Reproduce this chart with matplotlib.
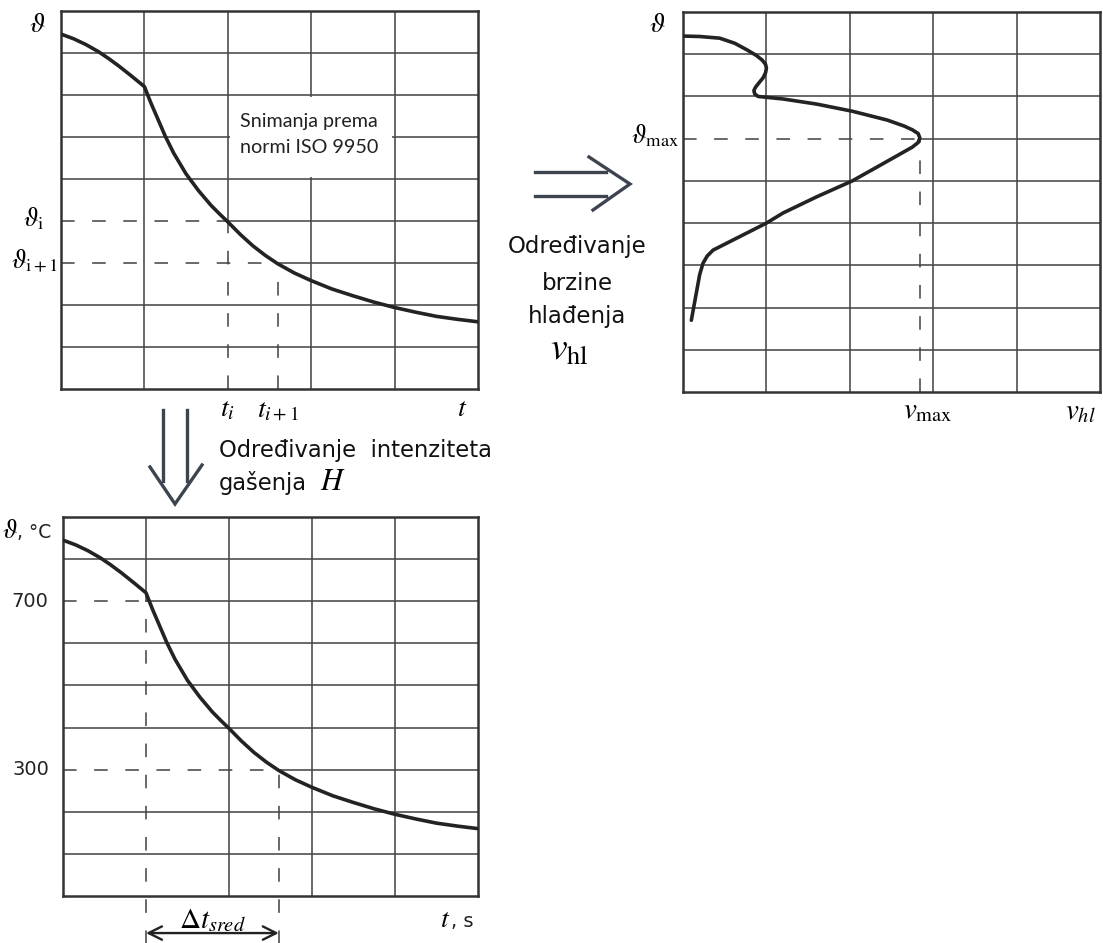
import numpy as np
import matplotlib.pyplot as plt
from matplotlib.patches import Rectangle

plt.rcParams['mathtext.fontset'] = 'stix'
plt.rcParams['font.family'] = ['DejaVu Sans']

W, H = 1103, 943

# cooling curve: time (grid columns) vs temperature (degC)
t_cool = [0, 0.15, 0.3, 0.45, 0.57, 0.7, 0.84, 0.92, 1.0,
          1.04, 1.08, 1.15, 1.25, 1.35, 1.5, 1.65, 1.8, 1.9, 2.0,
          2.15, 2.3, 2.45, 2.6, 2.8, 3.0, 3.25, 3.5, 3.75, 4.0,
          4.25, 4.5, 4.75, 5.0]
temp_cool = [845, 834, 820, 803, 787, 768, 746, 733, 720,
             700, 680, 648, 602, 562, 512, 472, 437, 417, 398,
             368, 341, 318, 298, 276, 258, 238, 222, 207, 194,
             183, 173, 166, 160]

# cooling rate curve: rate (grid columns) vs temperature (degC)
v_rate = [0, 0.2, 0.44, 0.62, 0.77, 0.88, 0.95, 0.99, 1.0, 0.99, 0.96,
          0.91, 0.87, 0.85, 0.86, 0.9, 1.2, 1.6, 2.03, 2.45, 2.65,
          2.75, 2.82, 2.84, 2.82, 2.75, 2.4, 2.03, 1.6, 1.2, 1.0,
          0.6, 0.36, 0.29, 0.24, 0.2, 0.1]
temp_rate = [843, 842, 838, 826, 810, 797, 786, 776, 767, 756, 744,
             732, 722, 714, 706, 700, 694, 682, 665, 644, 630,
             621, 612, 602, 591, 580, 541, 500, 462, 424, 400,
             360, 336, 322, 305, 278, 170]

t_i, t_i1 = 2.0, 2.6          # t_i, t_(i+1)
th_i, th_i1 = 400, 300        # theta_i, theta_(i+1)
t_700, t_300 = 1.0, 2.6       # times where 700 / 300 degC are reached
v_max, th_max = 2.84, 600

grid_c = '#474747'
curve_c = '#232323'
arrow_c = '#3d4450'
DASH = (0, (8.5, 11))


def px_box(x0, y0, x1, y1):
    return [x0 / W, 1 - y1 / H, (x1 - x0) / W, (y1 - y0) / H]


def setup(ax):
    ax.set_xlim(0, 5)
    ax.set_ylim(0, 900)
    ax.set_xticks([])
    ax.set_yticks([])
    for s in ax.spines.values():
        s.set_linewidth(1.8)
        s.set_color('#333333')


def hgrid(ax, y, x0=0, x1=5, dashed=False):
    ax.plot([x0, x1], [y, y], color=grid_c, lw=1.15,
            ls=DASH if dashed else '-', zorder=1)


def vgrid(ax, x, y0=0, y1=900, dashed=False, clip=True):
    ax.plot([x, x], [y0, y1], color=grid_c, lw=1.15,
            ls=DASH if dashed else '-', zorder=1, clip_on=clip)


fig = plt.figure(figsize=(W / 100, H / 100), dpi=100)

# ---------------- top-left: cooling curve ----------------
ax1 = fig.add_axes(px_box(61, 11, 478, 389))
setup(ax1)
for y in range(100, 900, 100):
    if y == th_i:
        hgrid(ax1, y, 0, t_i, dashed=True)
        hgrid(ax1, y, t_i, 5)
    elif y == th_i1:
        hgrid(ax1, y, 0, t_i1, dashed=True)
        hgrid(ax1, y, t_i1, 5)
    else:
        hgrid(ax1, y)
for x in range(1, 5):
    if x == t_i:
        vgrid(ax1, x, th_i, 900)
        vgrid(ax1, x, 0, th_i, dashed=True)
    else:
        vgrid(ax1, x)
vgrid(ax1, t_i1, 0, th_i1, dashed=True)
ax1.add_patch(Rectangle((2.03, 505), 1.94, 190, facecolor='white',
                        edgecolor='none', zorder=2))
ax1.plot(t_cool, temp_cool, color=curve_c, lw=2.6, zorder=3,
         solid_joinstyle='round', solid_capstyle='round')
ax1.text(2.15, 638, 'Snimanja prema', fontsize=14.2, family='Lato',
         va='center', ha='left', color='#222', zorder=4)
ax1.text(2.15, 574, 'normi ISO 9950', fontsize=14.2, family='Lato',
         va='center', ha='left', color='#222', zorder=4)
ax1.text(-0.29, 870, r'$\vartheta$', fontsize=20, ha='center', va='center')
ax1.text(-0.46, th_i + 5, r'$\vartheta_{\mathrm{i}}$', fontsize=19,
         ha='left', va='center')
ax1.text(-0.6, th_i1 + 5, r'$\vartheta_{\mathrm{i+1}}$', fontsize=19,
         ha='left', va='center')
ax1.text(t_i, -45, r'$t_i$', fontsize=20, ha='center', va='center')
ax1.text(t_i1, -45, r'$t_{i+1}$', fontsize=20, ha='center', va='center')
ax1.text(4.81, -45, r'$t$', fontsize=20, ha='center', va='center')

# ---------------- top-right: cooling rate ----------------
ax2 = fig.add_axes(px_box(683, 12, 1100, 392))
setup(ax2)
for y in range(100, 900, 100):
    if y == th_max:
        hgrid(ax2, y, 0, v_max, dashed=True)
        hgrid(ax2, y, v_max, 5)
    else:
        hgrid(ax2, y)
for x in range(1, 5):
    vgrid(ax2, x)
vgrid(ax2, v_max, 0, th_max, dashed=True)
ax2.plot(v_rate, temp_rate, color=curve_c, lw=2.6, zorder=3,
         solid_joinstyle='round', solid_capstyle='round')
ax2.text(-0.31, 872, r'$\vartheta$', fontsize=20, ha='center', va='center')
ax2.text(-0.05, th_max + 5, r'$\vartheta_{\mathrm{max}}$', fontsize=19,
         ha='right', va='center')
ax2.text(2.94, -43, r'$v_{\mathrm{max}}$', fontsize=21, ha='center', va='center')
ax2.text(4.76, -45, r'$v_{hl}$', fontsize=21, ha='center', va='center')

# ---------------- bottom: evaluation of H ----------------
ax3 = fig.add_axes(px_box(63, 517, 478, 896))
setup(ax3)
for y in range(100, 900, 100):
    if y == 700:
        hgrid(ax3, y, 0, t_700, dashed=True)
        hgrid(ax3, y, t_700, 5)
    elif y == 300:
        hgrid(ax3, y, 0, t_300, dashed=True)
        hgrid(ax3, y, t_300, 5)
    else:
        hgrid(ax3, y)
for x in range(1, 5):
    if x == t_700:
        vgrid(ax3, x, 700, 900)
    else:
        vgrid(ax3, x)
vgrid(ax3, t_700, -115, 700, dashed=True, clip=False)
vgrid(ax3, t_300, -115, 300, dashed=True, clip=False)
ax3.plot(t_cool, temp_cool, color=curve_c, lw=2.6, zorder=3,
         solid_joinstyle='round', solid_capstyle='round')
ax3.text(-0.73, 850, r'$\vartheta$', fontsize=19, ha='left', va='baseline')
ax3.text(-0.55, 850, ', °C', fontsize=13.5, ha='left', va='baseline', color='#222')
ax3.text(-0.18, 700, '700', fontsize=14, ha='right', va='center', color='#222')
ax3.text(-0.17, 300, '300', fontsize=14, ha='right', va='center', color='#222')
ax3.text(4.67, -74, r'$t$', fontsize=20, ha='right', va='baseline')
ax3.text(4.68, -74, ', s', fontsize=14, ha='left', va='baseline', color='#222')
ax3.annotate('', xy=(t_700, -88), xytext=(t_300, -88),
             arrowprops=dict(arrowstyle='<->', color='#222', lw=1.7,
                             mutation_scale=24, shrinkA=0, shrinkB=0),
             annotation_clip=False)
ax3.text((t_700 + t_300) / 2, -58, r'$\mathit{\Delta} t_{sred}$', fontsize=21,
         ha='center', va='center')

# ---------------- arrows and captions ----------------
ov = fig.add_axes([0, 0, 1, 1])
ov.set_xlim(0, W)
ov.set_ylim(H, 0)
ov.axis('off')

# right arrow
ov.plot([535, 606], [172, 172], color=arrow_c, lw=2.4)
ov.plot([535, 606], [196, 196], color=arrow_c, lw=2.4)
ov.plot([589, 630, 593], [157, 184, 210], color=arrow_c, lw=2.4,
        solid_joinstyle='miter')
ov.text(577, 247, 'Određivanje', fontsize=16.5, ha='center', va='center', color='#111')
ov.text(577, 283, 'brzine', fontsize=16.5, ha='center', va='center', color='#111')
ov.text(577, 316, 'hlađenja', fontsize=16.5, ha='center', va='center', color='#111')
ov.text(569, 350, r'$v_{\mathrm{hl}}$', fontsize=27, ha='center', va='center')

# down arrow
ov.plot([163, 163], [410, 481], color=arrow_c, lw=2.4)
ov.plot([187, 187], [410, 481], color=arrow_c, lw=2.4)
ov.plot([150, 175, 202], [467, 504, 465], color=arrow_c, lw=2.4,
        solid_joinstyle='miter')
ov.text(219, 450, 'Određivanje  intenziteta', fontsize=16.3, ha='left',
        va='center', color='#111')
ov.text(219, 483, 'gašenja', fontsize=16.3, ha='left', va='center',
        color='#111')
ov.text(320, 481, r'$H$', fontsize=22, ha='left', va='center')

fig.savefig('out.png', dpi=100)
